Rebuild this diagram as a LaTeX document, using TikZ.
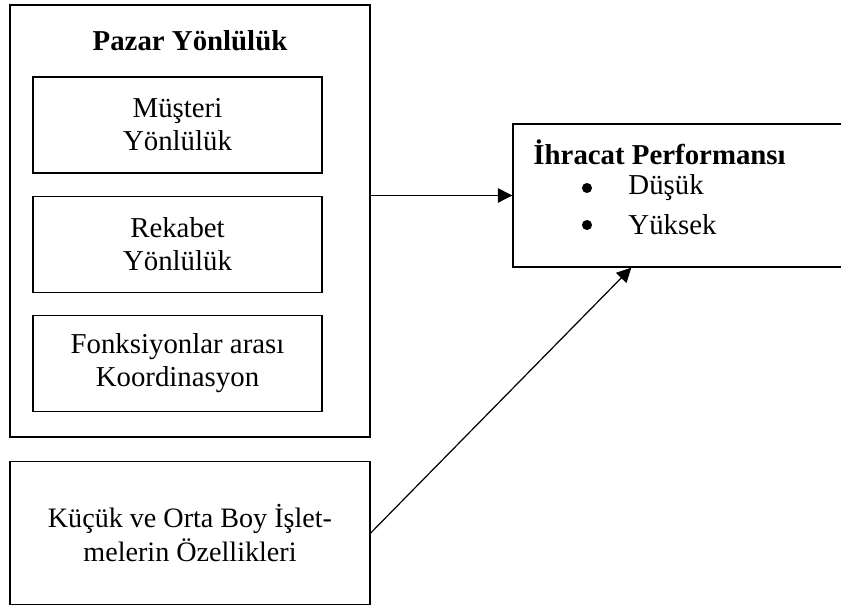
\documentclass[tikz,border=0pt]{standalone}
\usepackage{fontspec}
\setmainfont{Liberation Serif}
\usetikzlibrary{arrows.meta,calc}
\tikzset{
  kutu/.style={draw, line width=0.6pt, inner sep=0pt, align=center},
  madde/.style={circle, fill, inner sep=0pt, minimum size=4.2pt},
  ok/.style={-{Triangle[length=6pt,width=6pt]}, line width=0.5pt},
}
\begin{document}
\begin{tikzpicture}[x=0.4162pt, y=-0.4162pt, font=\fontsize{12}{13.7}\selectfont]
\useasboundingbox (0,0) rectangle (841,606);
\clip (0,0) rectangle (841,606);

\node[kutu, minimum width=149.8pt, minimum height=179.8pt] (pazar) at (190,221) {};
\node (baslik) at (190,41) {\textbf{Pazar Yönlülük}};
\node[kutu, minimum width=120.3pt, minimum height=40pt] (musteri) at (177.5,125) {Müşteri\\Yönlülük};
\node[kutu, minimum width=120.3pt, minimum height=40pt] (rekabet) at (177.5,244.5) {Rekabet\\Yönlülük};
\node[kutu, minimum width=120.3pt, minimum height=40pt] (koord) at (177.5,363.5) {Fonksiyonlar arası\\Koordinasyon};

\node[kutu, minimum width=149.8pt, minimum height=59.5pt, font=\fontsize{11.7}{14.5}\selectfont] (kobi) at (190,533) {Küçük ve Orta Boy İşlet-\\melerin Özellikleri};

\node[kutu, minimum width=144.4pt, minimum height=59.5pt] (perf) at (686.5,195.5) {};
\node[anchor=west, inner sep=0pt] (perfbaslik) at (533,152) {\textbf{İhracat Performansı}};
\node[madde] (madde1) at (587,188) {};
\node[anchor=west, inner sep=0pt] (dusuk) at (628,188) {Düşük};
\node[madde] (madde2) at (587,225) {};
\node[anchor=west, inner sep=0pt] (yuksek) at (628,225) {Yüksek};

\coordinate (perfalt) at ($(perf.south west)+(119,0)$);
\draw[ok] (pazar.east |- perf.west) -- (perf.west);
\draw[ok] (kobi.east) -- (perfalt);

\end{tikzpicture}
\end{document}
